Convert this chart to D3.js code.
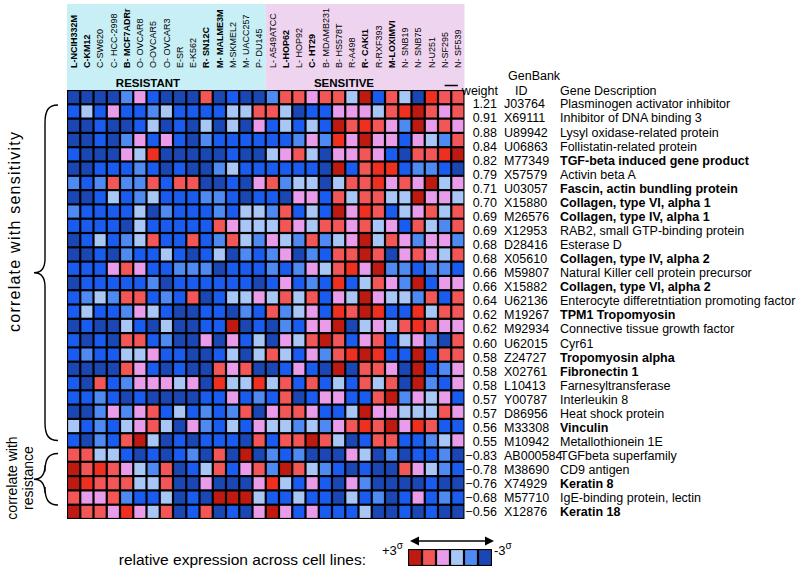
<!DOCTYPE html>
<html>
<head>
<meta charset="utf-8">
<script src="https://cdn.jsdelivr.net/npm/d3@7"></script>
<style>
  body { margin: 0; background: #fff; }
  svg { font-family: "Liberation Sans", Arial, sans-serif; }
</style>
</head>
<body>
<svg id="chart" width="800" height="574"></svg>
<script>
// cell lines (columns), first 15 resistant, last 15 sensitive
const cellLines = [
  "L-NCIH332M", "C-KM12", "C-SW620", "C- HCC-2998", "B- MCF7ADRr", "O- OVCAR8",
  "O-OVCAR5", "O- OVCAR3", "E-SR", "E-K562", "R- SN12C", "M- MALME3M", "M-SKMEL2",
  "M- UACC257", "P- DU145",
  "L- A549ATCC", "L-HOP62", "L- HOP92", "C- HT29", "B- MDAMB231", "B- HS578T",
  "R-A498", "R- CAKI1", "R-RXF393", "M-LOXIMVI", "N- SNB19", "N- SNB75", "N-U251",
  "N-SF295", "N- SF539"
];
const boldLines = ["L-NCIH332M", "C-KM12", "B- MCF7ADRr", "R- SN12C", "M- MALME3M",
  "L-HOP62", "C- HT29", "R- CAKI1", "M-LOXIMVI"];
const groupNames = ["RESISTANT", "SENSITIVE"];

// genes (rows)
const weights = [1.21, 0.91, 0.88, 0.84, 0.82, 0.79, 0.71, 0.70, 0.69, 0.69, 0.68, 0.68,
  0.66, 0.66, 0.64, 0.62, 0.62, 0.60, 0.58, 0.58, 0.58, 0.57, 0.57, 0.56, 0.55,
  -0.83, -0.78, -0.76, -0.68, -0.56];
const genBankIds = ["J03764", "X69111", "U89942", "U06863", "M77349", "X57579", "U03057",
  "X15880", "M26576", "X12953", "D28416", "X05610", "M59807", "X15882", "U62136",
  "M19267", "M92934", "U62015", "Z24727", "X02761", "L10413", "Y00787", "D86956",
  "M33308", "M10942", "AB000584", "M38690", "X74929", "M57710", "X12876"];
const geneNames = ["Plasminogen activator inhibitor", "Inhibitor of DNA binding 3",
  "Lysyl oxidase-related protein", "Follistatin-related protein",
  "TGF-beta induced gene product", "Activin beta A", "Fascin, actin bundling protein",
  "Collagen, type VI, alpha 1", "Collagen, type IV, alpha 1",
  "RAB2, small GTP-binding protein", "Esterase D", "Collagen, type IV, alpha 2",
  "Natural Killer cell protein precursor", "Collagen, type VI, alpha 2",
  "Enterocyte differetntiation promoting factor", "TPM1 Tropomyosin",
  "Connective tissue growth factor", "Cyr61", "Tropomyosin alpha", "Fibronectin 1",
  "Farnesyltransferase", "Interleukin 8", "Heat shock protein", "Vinculin",
  "Metallothionein 1E", "TGFbeta superfamily", "CD9 antigen", "Keratin 8",
  "IgE-binding protein, lectin", "Keratin 18"];
const boldGenes = [4, 6, 7, 8, 11, 13, 15, 18, 19, 23, 27, 29];
const nSensitivity = 25;

// relative expression, one letter per cell
// R dark red, o bright red, r red, p pink, l light blue, m blue, b bright blue, d dark blue
const expressionRows = [
  "ddddmpbdddrdbdd" + "mrrprrlRbrldorr",
  "blbpbbmlbbbbllr" + "rldbbppplroRrpr",
  "ddbddbldbdldldp" + "blblbRrorpmRprp",
  "ddbdmpbpbdmbbbb" + "bbmpmopRppbplmr",
  "bdddplodddddbdd" + "lprldpprpbdrroR",
  "ddbbbmbdbddmlbb" + "bbbbdRbroobmmbd",
  "mbmrmmrbrrddbdp" + "rmlldlrroprpRlp",
  "ddblbmlbbbmmbdb" + "bdppbrlrrllRppl",
  "mbbbbldmbbbmbll" + "mrblbRporblprlr",
  "bbbbdlbbbbbrpll" + "lrplrrprlpbrlmr",
  "dblbmlrbbrbmrlm" + "plmrmlpRlrpmppm",
  "ddbdmbblbdbldmb" + "mpdmbrrRrdprplr",
  "bbbprpbbmmmdbbb" + "mbmplropRmmbmmb",
  "dbbbbbmdbbbbbbd" + "bpbmboblrpmRbpp",
  "bmlmrrbmbrdbllp" + "lrlrbplRpllmrbr",
  "blbbmplbddbbdmb" + "rmlpborRobbolrr",
  "dbddlbdlddbbRdb" + "dmbppRdlplrorpp",
  "bdbdrrbmddpdpbl" + "dplrRrbprblpmdr",
  "bmbbllpbbddbldl" + "rlbpmroRobbRbrr",
  "ddddrpbdbddrprd" + "dbpbdRdrrpdRbmp",
  "bdrbmppplpdollo" + "lrbrblbrlrdRmbp",
  "bbmbdbddddbbpbm" + "brdbppbbrRmplpb",
  "ddmpmprblbmbmrd" + "prrpbblRpplllrp",
  "lbmblprldpmblbp" + "llmlmprorRporbb",
  "bdmbrRldbdbbbdr" + "brrRrldbrrbbmlp",
  "rrllbdbdbmdrdRd" + "mbmdddpldmdbbmd",
  "Rrorplmrdblrbpr" + "mRrlmbdbddrplmb",
  "Rorrrllrddpdddp" + "olbpbdpmddddbdd",
  "rpprmbbldbdRRRl" + "bblbbdlbmdbpbmb",
  "Rrrpoplrdbrdbdp" + "Rpbpbbblddbdbdd"
];
const codeSigma = { R: 3, o: 2.5, r: 2, p: 1, l: -1, m: -2, b: -2.5, d: -3 };
const legendSigma = [3, 2, 1, -1, -2, -3];

const cells = [];
expressionRows.forEach((row, i) => {
  row.split("").forEach((c, j) => cells.push({ row: i, col: j, value: codeSigma[c] }));
});

const color = d3.scaleOrdinal()
  .domain([3, 2.5, 2, 1, -1, -2, -2.5, -3])
  .range(["#bf1a12", "#ef2f20", "#f35656", "#e99ce9", "#a9c7f6", "#4f8af2", "#1a5cf0", "#1b47b5"]);

const svg = d3.select("#chart");

const x = d3.scaleBand().domain(d3.range(cellLines.length)).range([67, 464.5]);
const y = d3.scaleBand().domain(d3.range(weights.length)).range([90, 519]);
const yText = d3.scalePoint().domain(d3.range(weights.length)).range([104, 512]);
const bw = x.bandwidth(), bh = y.bandwidth();

// header boxes
svg.append("rect").attr("x", x(0)).attr("y", 4).attr("width", x(15) - x(0))
  .attr("height", 86).attr("fill", "#c7eff5");
svg.append("rect").attr("x", x(15)).attr("y", 4).attr("width", x(29) + bw - x(15))
  .attr("height", 86).attr("fill", "#efd4ef");

svg.append("g").selectAll("text").data(cellLines).join("text")
  .attr("transform", (d, i) => "translate(" + (x(i) + bw / 2 + 3.2) + ",68) rotate(-90)")
  .attr("font-size", 9)
  .attr("font-weight", d => boldLines.includes(d) ? "bold" : "normal")
  .text(d => d);

svg.append("text").attr("x", 148).attr("y", 87).attr("text-anchor", "middle")
  .attr("font-size", 11.5).attr("font-weight", "bold").text(groupNames[0]);
svg.append("text").attr("x", 344).attr("y", 87).attr("text-anchor", "middle")
  .attr("font-size", 11.5).attr("font-weight", "bold").text(groupNames[1]);
svg.append("line").attr("x1", x(28) + bw / 2).attr("x2", x(29) + bw / 2)
  .attr("y1", 85.5).attr("y2", 85.5).attr("stroke", "#000").attr("stroke-width", 1.5);

// heatmap
svg.append("rect").attr("x", x(0)).attr("y", y(0))
  .attr("width", x(29) + bw - x(0)).attr("height", y(29) + bh - y(0)).attr("fill", "#000");
svg.append("g").selectAll("rect").data(cells).join("rect")
  .attr("x", d => x(d.col) + 1.1)
  .attr("y", d => y(d.row) + 1.1)
  .attr("width", bw - 2.2)
  .attr("height", bh - 2.2)
  .attr("fill", d => color(d.value));

// right side table
const fs = 12.5;
svg.append("text").attr("x", 498).attr("y", 91).attr("dy", "0.35em")
  .attr("text-anchor", "end").attr("font-size", fs).text("weight");
svg.append("text").attr("x", 508).attr("y", 76).attr("dy", "0.35em")
  .attr("font-size", fs).text("GenBank");
svg.append("text").attr("x", 515).attr("y", 91).attr("dy", "0.35em")
  .attr("font-size", fs).text("ID");
svg.append("text").attr("x", 560).attr("y", 91).attr("dy", "0.35em")
  .attr("font-size", fs).text("Gene Description");

const table = svg.append("g").attr("font-size", fs);
table.selectAll(".w").data(weights).join("text").attr("class", "w")
  .attr("x", 497).attr("y", (d, i) => yText(i)).attr("dy", "0.35em")
  .attr("text-anchor", "end").text(d => d3.format(".2f")(d));
table.selectAll(".id").data(genBankIds).join("text").attr("class", "id")
  .attr("x", 504).attr("y", (d, i) => yText(i)).attr("dy", "0.35em").text(d => d);
table.selectAll(".g").data(geneNames).join("text").attr("class", "g")
  .attr("x", 560).attr("y", (d, i) => yText(i)).attr("dy", "0.35em")
  .attr("font-weight", (d, i) => boldGenes.includes(i) ? "bold" : "normal")
  .text(d => d);

// braces on the left
function brace(xv, y0, y1) {
  const ym = (y0 + y1) / 2;
  const p = d3.path();
  p.moveTo(xv + 13, y0);
  p.bezierCurveTo(xv + 3, y0, xv, y0 + 6, xv, y0 + 18);
  p.lineTo(xv, ym - 14);
  p.bezierCurveTo(xv, ym - 5, xv - 4, ym, xv - 11, ym);
  p.bezierCurveTo(xv - 4, ym, xv, ym + 5, xv, ym + 14);
  p.lineTo(xv, y1 - 18);
  p.bezierCurveTo(xv, y1 - 6, xv + 3, y1, xv + 13, y1);
  return p.toString();
}
svg.append("path").attr("d", brace(45, y(0) + 15, y(nSensitivity) - 7))
  .attr("fill", "none").attr("stroke", "#000").attr("stroke-width", 1.4);
svg.append("path").attr("d", brace(45, y(nSensitivity) + 6, y(29) + bh - 14))
  .attr("fill", "none").attr("stroke", "#000").attr("stroke-width", 1.4);

svg.append("text").attr("transform", "translate(20,232) rotate(-90)")
  .attr("text-anchor", "middle").attr("font-size", 16)
  .attr("textLength", 200).attr("lengthAdjust", "spacing")
  .text("correlate with sensitivity");
svg.append("text").attr("transform", "translate(17,478) rotate(-90)")
  .attr("text-anchor", "middle").attr("font-size", 14).text("correlate with");
svg.append("text").attr("transform", "translate(33,478) rotate(-90)")
  .attr("text-anchor", "middle").attr("font-size", 14).text("resistance");

// legend
svg.append("text").attr("x", 366).attr("y", 565).attr("text-anchor", "end")
  .attr("font-size", 15.5).text("relative expression across cell lines:");
const lx = d3.scaleBand().domain(d3.range(legendSigma.length)).range([408, 492]);
svg.append("rect").attr("x", 408).attr("y", 549).attr("width", 84).attr("height", 17)
  .attr("fill", "#000");
svg.append("g").selectAll("rect").data(legendSigma).join("rect")
  .attr("x", (d, i) => lx(i) + 1.1).attr("y", 550.1)
  .attr("width", lx.bandwidth() - 2.2).attr("height", 14.8)
  .attr("fill", d => color(d));
svg.append("text").attr("x", 382).attr("y", 555).attr("font-size", 13).text("+3")
  .append("tspan").attr("font-size", 10).attr("dy", -6).text("σ");
svg.append("text").attr("x", 494).attr("y", 555).attr("font-size", 13).text("-3")
  .append("tspan").attr("font-size", 10).attr("dy", -6).text("σ");
svg.append("line").attr("x1", 416).attr("x2", 488).attr("y1", 541).attr("y2", 541)
  .attr("stroke", "#000").attr("stroke-width", 1.4);
svg.append("path").attr("d", "M410,541 L419,536.5 L419,545.5 Z M494,541 L485,536.5 L485,545.5 Z")
  .attr("fill", "#000");
</script>
</body>
</html>
